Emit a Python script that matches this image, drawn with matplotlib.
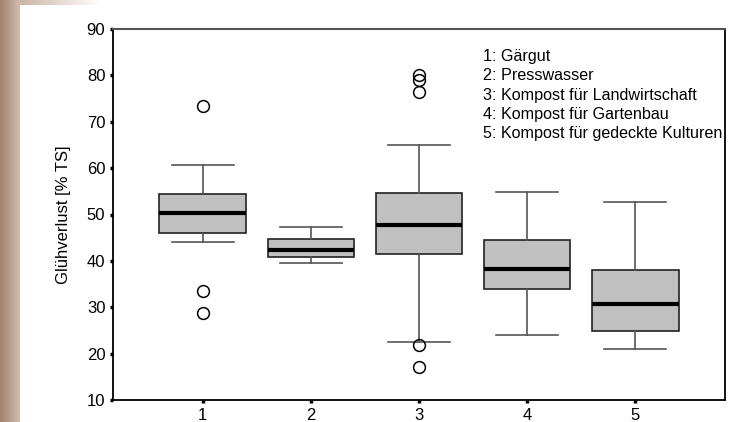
import numpy as np
import matplotlib.pyplot as plt

plt.rcParams['font.family'] = ['Liberation Sans', 'DejaVu Sans']

# Box statistics per material group (Glühverlust in % TS)
groups = [1, 2, 3, 4, 5]
whisker_low = [44.1, 39.6, 22.4, 24.0, 21.1]
q1 = [46.0, 40.9, 41.5, 33.9, 24.9]
median = [50.3, 42.3, 47.7, 38.2, 30.8]
q3 = [54.4, 44.7, 54.6, 44.4, 38.0]
whisker_high = [60.7, 47.4, 65.0, 54.8, 52.8]
outliers = [[73.4, 33.6, 28.8], [], [80.1, 79.0, 76.4, 21.9, 17.1], [], []]

legend_lines = ["1: Gärgut", "2: Presswasser", "3: Kompost für Landwirtschaft",
                "4: Kompost für Gartenbau", "5: Kompost für gedeckte Kulturen"]

fig = plt.figure(figsize=(7.38, 4.22), dpi=100)

# brown gradient strip on the left edge and a faded band along the top
strip = fig.add_axes([0, 0, 20 / 738, 1])
grad = np.linspace(0, 1, 50).reshape(1, -1)
c0 = np.array([0.64, 0.51, 0.43])
c1 = np.array([0.81, 0.74, 0.69])
img = c0 + (c1 - c0) * grad[..., None]
strip.imshow(img, aspect='auto', extent=[0, 1, 0, 1])
strip.axis('off')

band = fig.add_axes([20 / 738, 1 - 5 / 422, 80 / 738, 5 / 422])
c2 = np.array([0.80, 0.71, 0.65])
c3 = np.array([1.0, 1.0, 1.0])
img2 = c2 + (c3 - c2) * grad[..., None]
band.imshow(img2, aspect='auto', extent=[0, 1, 0, 1])
band.axis('off')

ax = fig.add_axes([113 / 738, 22 / 422, 612 / 738, 371 / 422])

stats = []
for i in range(len(groups)):
    stats.append({'whislo': whisker_low[i], 'q1': q1[i], 'med': median[i],
                  'q3': q3[i], 'whishi': whisker_high[i], 'fliers': outliers[i]})

ax.bxp(stats, positions=groups, widths=0.8, capwidths=0.57, patch_artist=True,
       boxprops=dict(facecolor='#c0c0c0', edgecolor='#222222', linewidth=1.2),
       medianprops=dict(color='black', linewidth=3),
       whiskerprops=dict(color='#555555', linewidth=1.2),
       capprops=dict(color='#555555', linewidth=1.2),
       flierprops=dict(marker='o', markerfacecolor='none', markeredgecolor='black',
                       markersize=8.5, markeredgewidth=1.1))

ax.set_xlim(0.17, 5.83)
ax.set_ylim(10, 90)
ax.set_yticks(range(10, 91, 10))
ax.set_xticks(groups)
ax.set_xticklabels([str(g) for g in groups])
ax.tick_params(axis='both', direction='out', length=2.5, width=2.5, labelsize=12,
               pad=3, color='black')

for side in ['left', 'bottom', 'right']:
    ax.spines[side].set_color('black')
    ax.spines[side].set_linewidth(1.3)
ax.spines['top'].set_color('#555555')
ax.spines['top'].set_linewidth(1.5)

ax.set_ylabel('Glühverlust [% TS]', fontsize=12, labelpad=11)

for k, line in enumerate(legend_lines):
    ax.text(0.605, 0.925 - k * 0.0515, line, transform=ax.transAxes,
            fontsize=11.6, va='center', ha='left')

fig.savefig('out.png', dpi=100)
